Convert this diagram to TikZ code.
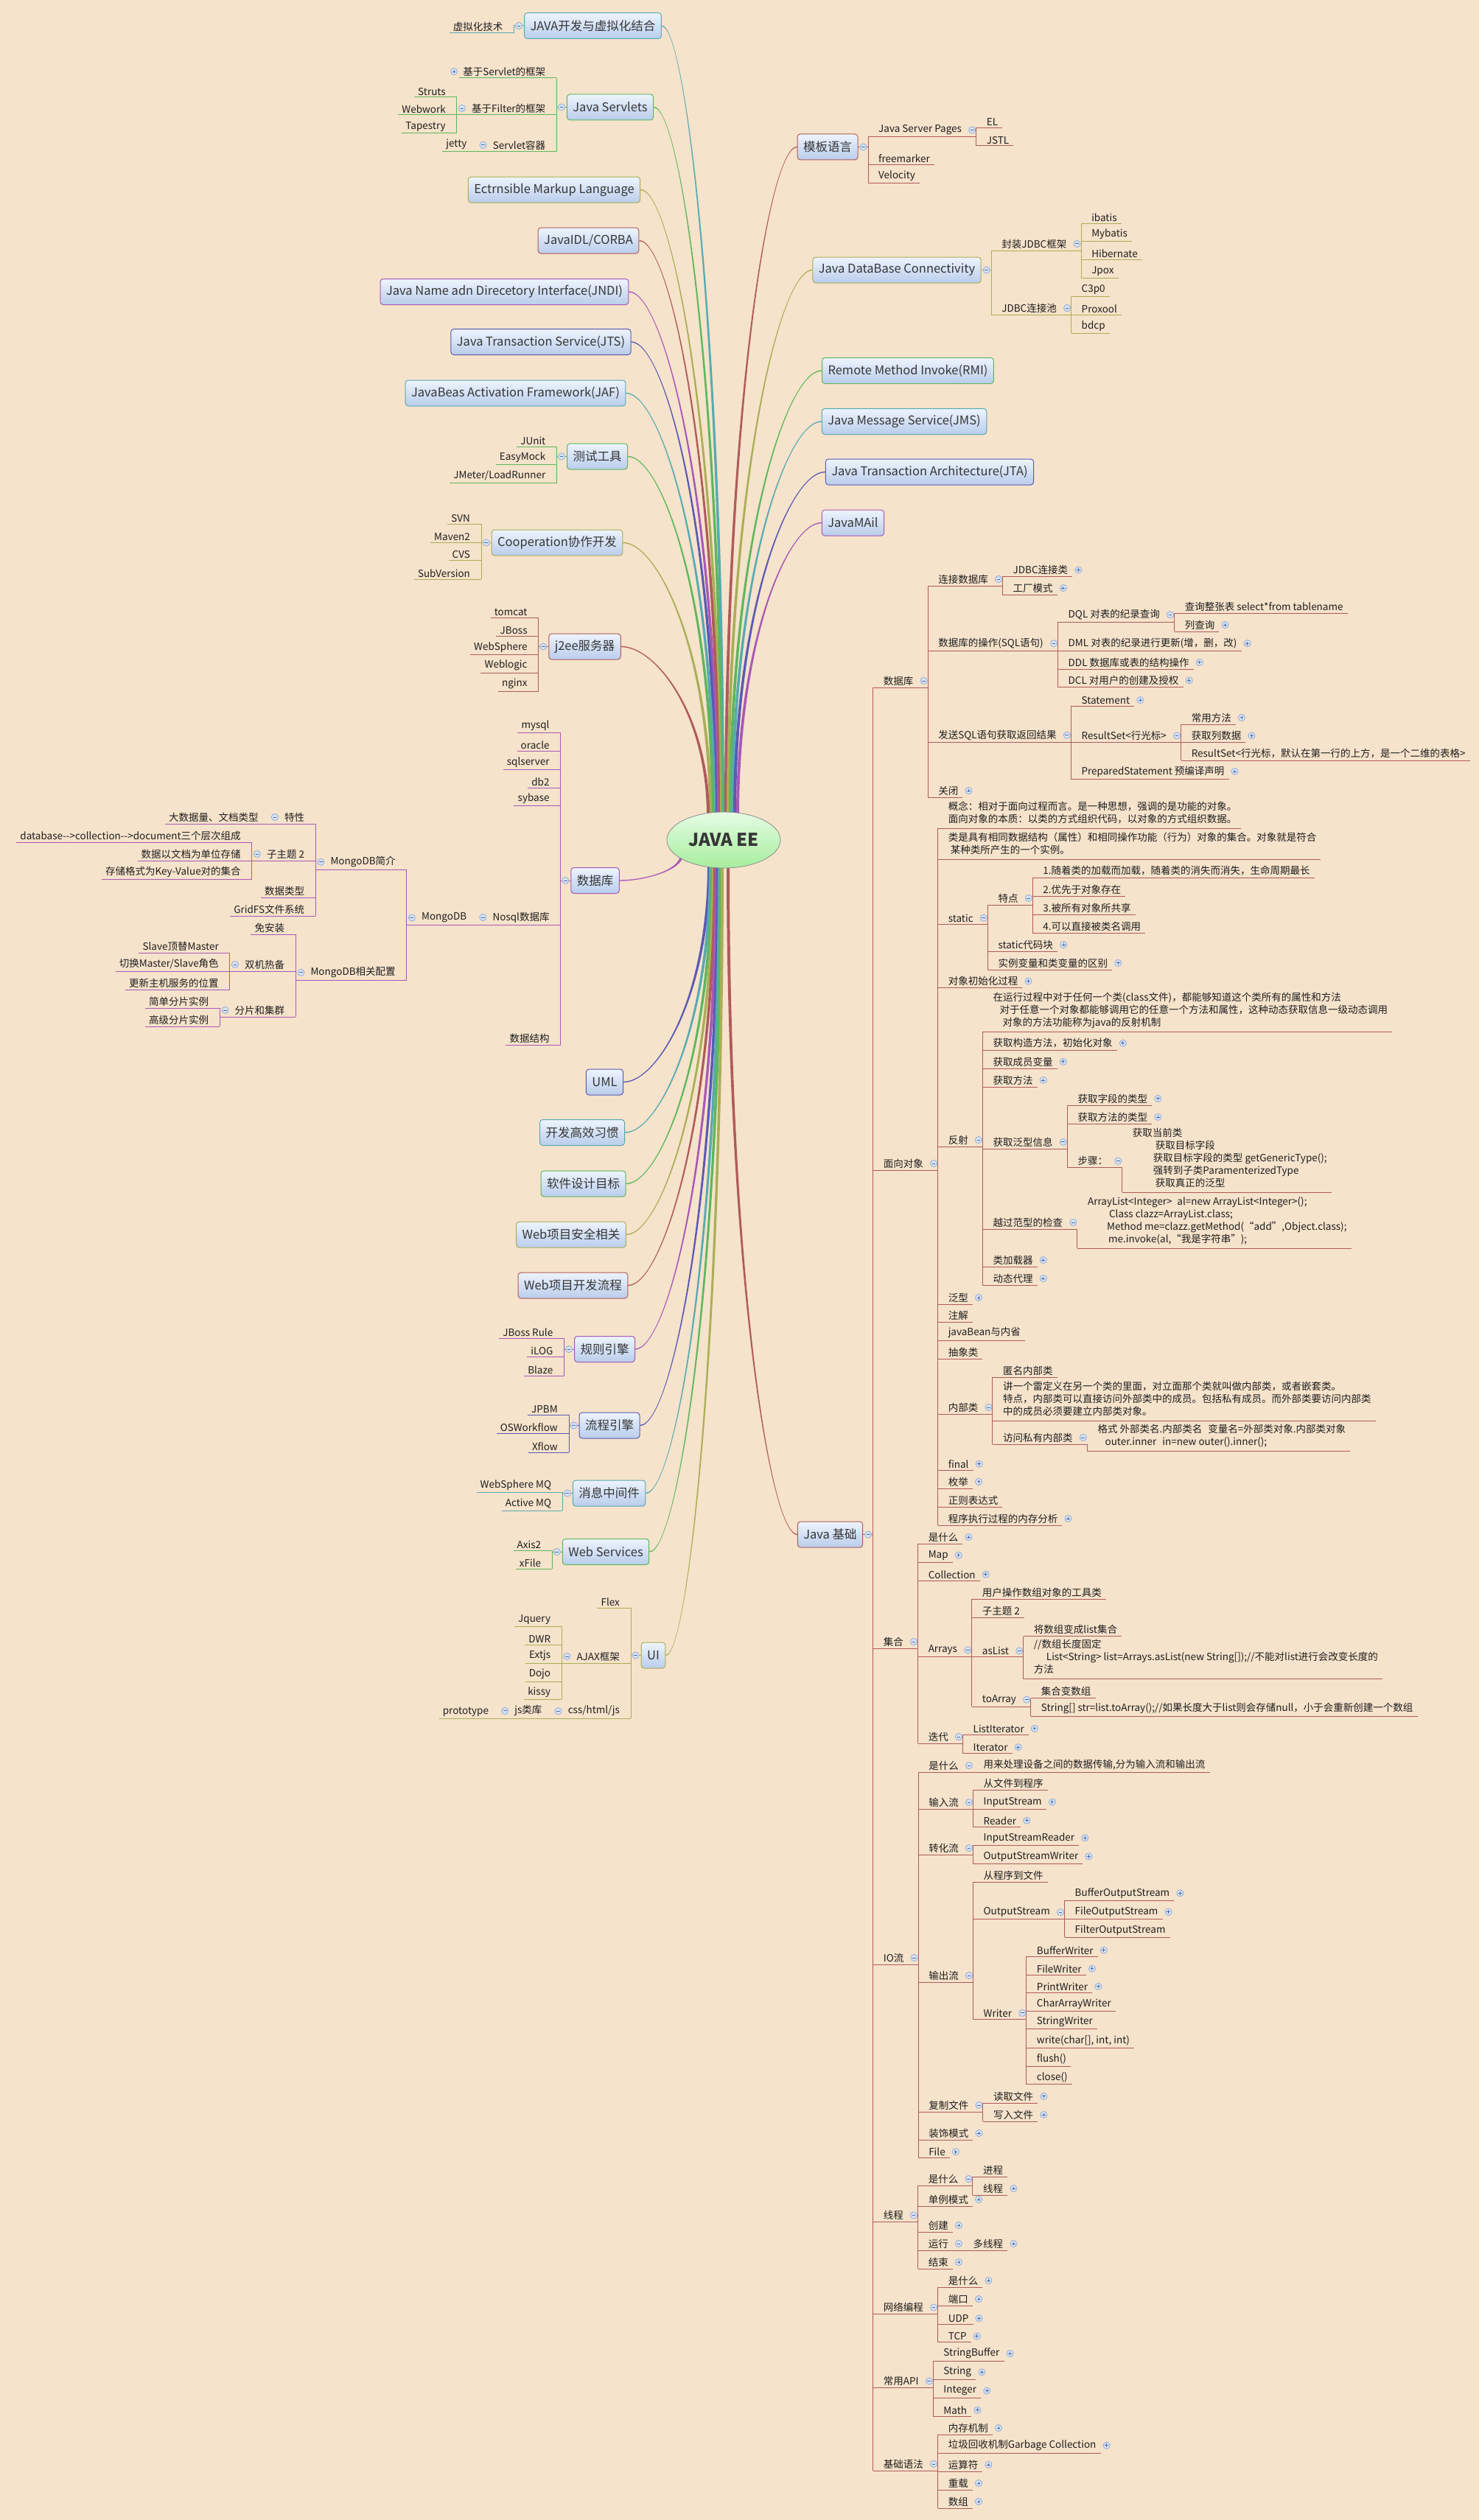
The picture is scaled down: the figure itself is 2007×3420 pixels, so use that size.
\documentclass[tikz,border=0pt]{standalone}
\usepackage{fontspec}
\setmainfont{Noto Sans CJK SC}
\usetikzlibrary{shapes.geometric,calc}

\pgfdeclarelayer{paper}
\pgfdeclarelayer{lines}
\pgfsetlayers{paper,lines,main}

\definecolor{leather}{HTML}{F6E3CB}
\definecolor{cred}{HTML}{AF5B5B}
\definecolor{cpur}{HTML}{A858B8}
\definecolor{cblu}{HTML}{5A5AB4}
\definecolor{ctea}{HTML}{56AAB2}
\definecolor{cgre}{HTML}{5DB75D}
\definecolor{coli}{HTML}{A9AE56}
\definecolor{boxtop}{HTML}{EEF4FD}
\definecolor{boxbot}{HTML}{B9CDEB}
\definecolor{roottop}{HTML}{E6FBE4}
\definecolor{rootbot}{HTML}{A6EE9E}
\definecolor{txt}{HTML}{1E1E1E}
\definecolor{boxtxt}{HTML}{363636}
\definecolor{btnfill}{HTML}{D6E3F6}
\definecolor{btnline}{HTML}{8CA6D0}
\definecolor{btnsign}{HTML}{4F6C9E}

\newcommand\leaffont{\fontsize{13.5}{17}\selectfont}
\newcommand\boxfont{\fontsize{16.5}{20}\selectfont}
\newcommand\ml[1]{\begin{tabular}{@{}l@{}}#1\end{tabular}}
% collapse buttons
\newcommand\mns[1]{\filldraw[fill=btnfill,draw=btnline,line width=0.7pt] #1 circle[radius=4.6pt];
  \draw[btnsign,line width=0.9pt] #1 ++(-2.4,0) -- ++(4.8,0);}
\newcommand\pls[1]{\mns{#1}\draw[btnsign,line width=0.9pt] #1 ++(0,-2.4) -- ++(0,4.8);}
% tapered branch from the root: colour, start, end anchor
\newcommand\mainline[3]{%
  \fill[#1] let \p1=#2, \p2=(#3),
    \n1={ifthenelse(\y2>\y1,-1,1)}, \n2={ifthenelse(\x2<\x1,-1,1)},
    \n3={\y1+0.6*(\y2-\y1)}, \n4={\x2+0.4*(\x1-\x2)} in
    ({\x1+\n1*2pt},\y1) .. controls ({\x1+\n1*2pt},{\n3*1pt}) and ({\n4*1pt},{\y2+\n2*0.7pt}) .. (\x2,{\y2+\n2*0.7pt})
    -- (\x2,{\y2-\n2*0.7pt}) .. controls ({\n4*1pt},{\y2-\n2*0.7pt}) and ({\x1-\n1*2pt},{\n3*1pt}) .. ({\x1-\n1*2pt},\y1) -- cycle;}

\tikzset{
  ul/.style={draw=bc, line width=1pt},
  tp/.style={inner xsep=0pt, inner ysep=2.6pt, text=txt, font=\leaffont,
    append after command={(\tikzlastnode.south west) edge[ul] (\tikzlastnode.south east)}},
  rc/.style={tp, anchor=south west, xshift=13.5pt,
    execute at begin node={\hspace*{14pt}}, execute at end node={\hspace*{6pt}}},
  lc/.style={tp, anchor=south east, xshift=#1,
    execute at begin node={\hspace*{5pt}}, execute at end node={\hspace*{15pt}}},
  lc/.default=0pt,
  lp/.style={tp, anchor=south east, xshift=#1,
    execute at begin node={\hspace*{20pt}}, execute at end node={\hspace*{15pt}}},
  lp/.default=0pt,
  topic/.style={rounded corners=4pt, draw=bc, line width=1pt, top color=boxtop, bottom color=boxbot,
    text=boxtxt, font=\boxfont, inner xsep=8pt, inner ysep=0pt, minimum height=35pt},
  conn/.style={draw=bc, line width=1pt},
}

\begin{document}
\begin{tikzpicture}[x=1pt,y=-1pt]

%root
\node[ellipse, draw=black!45, line width=0.8pt, top color=roottop, bottom color=rootbot,
  minimum width=154pt, minimum height=76pt, inner sep=0pt, text=boxtxt,
  font=\fontsize{24}{28}\selectfont\bfseries] (root) at (982,1140) {JAVA EE};

%JAVA开发与虚拟化结合
\begin{scope}
\colorlet{bc}{ctea}
\node[topic] (jv) at (804.5,35) {JAVA开发与虚拟化结合};
\node[lc=-13.5pt] (vt) at (jv.west |- 0,45) {虚拟化技术};
\draw[conn] (jv.west) -| (vt.south east);
\end{scope}

%Java Servlets
\begin{scope}
\colorlet{bc}{cgre}
\node[topic] (sv) at (828,145.5) {Java Servlets};
\node[lc=-13.5pt] (svf) at (sv.west |- 0,106) {基于Servlet的框架};
\node[lp=-13.5pt] (flt) at (sv.west |- 0,156) {基于Filter的框架};
\node[lp=-13.5pt] (sc) at (sv.west |- 0,206) {Servlet容器};
\node[lc] (struts) at (flt.south west |- 0,132) {Struts};
\node[lc] (webwork) at (flt.south west |- 0,156) {Webwork};
\node[lc] (tapestry) at (flt.south west |- 0,181) {Tapestry};
\node[lc] (jetty) at (sc.south west |- 0,206) {jetty};
\foreach \c in {svf,flt,sc} \draw[conn] (sv.west) -| (\c.south east);
\foreach \c in {struts,webwork,tapestry} \draw[conn] (flt.south west) -- (\c.south east);
\end{scope}

\begin{scope}
\colorlet{bc}{coli}
\node[topic] (xml) at (752,257.5) {Ectrnsible Markup Language};
\end{scope}
\begin{scope}
\colorlet{bc}{cred}
\node[topic] (idl) at (798.5,326.5) {JavaIDL/CORBA};
\end{scope}
\begin{scope}
\colorlet{bc}{cpur}
\node[topic] (jndi) at (684.5,396) {Java Name adn Direcetory Interface(JNDI)};
\end{scope}
\begin{scope}
\colorlet{bc}{cblu}
\node[topic] (jts) at (734,464) {Java Transaction Service(JTS)};
\end{scope}
\begin{scope}
\colorlet{bc}{ctea}
\node[topic] (jaf) at (699.5,533.5) {JavaBeas Activation Framework(JAF)};
\end{scope}

%测试工具
\begin{scope}
\colorlet{bc}{cgre}
\node[topic] (test) at (810.5,619.5) {测试工具};
\node[lc=-13.5pt] (junit) at (test.west |- 0,606) {JUnit};
\node[lc=-13.5pt] (easymock) at (test.west |- 0,630) {EasyMock};
\node[lc=-13.5pt] (jmeter) at (test.west |- 0,655) {JMeter/LoadRunner};
\foreach \c in {junit,easymock,jmeter} \draw[conn] (test.west) -| (\c.south east);
\end{scope}

%Cooperation
\begin{scope}
\colorlet{bc}{coli}
\node[topic] (coop) at (756,736.5) {Cooperation协作开发};
\node[lc=-13.5pt] (svn) at (coop.west |- 0,711) {SVN};
\node[lc=-13.5pt] (maven) at (coop.west |- 0,736) {Maven2};
\node[lc=-13.5pt] (cvs) at (coop.west |- 0,760) {CVS};
\node[lc=-13.5pt] (subv) at (coop.west |- 0,786) {SubVersion};
\foreach \c in {svn,maven,cvs,subv} \draw[conn] (coop.west) -| (\c.south east);
\end{scope}

%j2ee服务器
\begin{scope}
\colorlet{bc}{cred}
\node[topic] (j2ee) at (793.5,877.5) {j2ee服务器};
\node[lc=-13.5pt] (tomcat) at (j2ee.west |- 0,838) {tomcat};
\node[lc=-13.5pt] (jboss) at (j2ee.west |- 0,863) {JBoss};
\node[lc=-13.5pt] (wsph) at (j2ee.west |- 0,888) {WebSphere};
\node[lc=-13.5pt] (wlogic) at (j2ee.west |- 0,913) {Weblogic};
\node[lc=-13.5pt] (nginx) at (j2ee.west |- 0,938) {nginx};
\foreach \c in {tomcat,jboss,wsph,wlogic,nginx} \draw[conn] (j2ee.west) -| (\c.south east);
\end{scope}

%数据库 (left)
\begin{scope}
\colorlet{bc}{cpur}
\node[topic] (ldb) at (807.5,1195) {数据库};
\node[lc=-13.5pt] (mysql) at (ldb.west |- 0,994) {mysql};
\node[lc=-13.5pt] (oracle) at (ldb.west |- 0,1019) {oracle};
\node[lc=-13.5pt] (sqlsrv) at (ldb.west |- 0,1044) {sqlserver};
\node[lc=-13.5pt] (db2) at (ldb.west |- 0,1069) {db2};
\node[lc=-13.5pt] (sybase) at (ldb.west |- 0,1093) {sybase};
\node[lp=-13.5pt] (nosql) at (ldb.west |- 0,1255) {Nosql数据库};
\node[lc=-13.5pt] (dstruct) at (ldb.west |- 0,1418) {数据结构};
\node[lp] (mongo) at (nosql.south west |- 0,1255) {MongoDB};
\node[lp] (mintro) at (mongo.south west |- 0,1180) {MongoDB简介};
\node[lp] (mconf) at (mongo.south west |- 0,1330) {MongoDB相关配置};
\node[lp] (feat) at (mintro.south west |- 0,1118) {特性};
\node[lc] (big) at (feat.south west |- 0,1118) {大数据量、文档类型};
\node[lp] (sub2) at (mintro.south west |- 0,1168) {子主题 2};
\node[lc] (dbcoll) at (sub2.south west |- 0,1143) {database-{}-{}>collection-{}-{}>document三个层次组成};
\node[lc] (docstore) at (sub2.south west |- 0,1168) {数据以文档为单位存储};
\node[lc] (kvset) at (sub2.south west |- 0,1193) {存储格式为Key-Value对的集合};
\node[lc] (dtype) at (mintro.south west |- 0,1218) {数据类型};
\node[lc] (gridfs) at (mintro.south west |- 0,1243) {GridFS文件系统};
\node[lc] (noinst) at (mconf.south west |- 0,1268) {免安装};
\node[lp] (hot) at (mconf.south west |- 0,1318) {双机热备};
\node[lc] (slave) at (hot.south west |- 0,1293) {Slave顶替Master};
\node[lc] (swap) at (hot.south west |- 0,1318) {切换Master/Slave角色};
\node[lc] (upd) at (hot.south west |- 0,1343) {更新主机服务的位置};
\node[lp] (shard) at (mconf.south west |- 0,1380) {分片和集群};
\node[lc] (simple) at (shard.south west |- 0,1368) {简单分片实例};
\node[lc] (adv) at (shard.south west |- 0,1393) {高级分片实例};
\foreach \c in {mysql,oracle,sqlsrv,db2,sybase,nosql,dstruct} \draw[conn] (ldb.west) -| (\c.south east);
\foreach \c in {mintro,mconf} \draw[conn] (mongo.south west) -- (\c.south east);
\foreach \c in {feat,sub2,dtype,gridfs} \draw[conn] (mintro.south west) -- (\c.south east);
\foreach \c in {dbcoll,kvset} \draw[conn] (sub2.south west) -- (\c.south east);
\foreach \c in {noinst,hot,shard} \draw[conn] (mconf.south west) -- (\c.south east);
\foreach \c in {slave,upd} \draw[conn] (hot.south west) -- (\c.south east);
\foreach \c in {simple,adv} \draw[conn] (shard.south west) -- (\c.south east);
\end{scope}

\begin{scope}
\colorlet{bc}{cblu}
\node[topic] (uml) at (820.5,1468.5) {UML};
\end{scope}
\begin{scope}
\colorlet{bc}{ctea}
\node[topic] (habit) at (790,1537) {开发高效习惯};
\end{scope}
\begin{scope}
\colorlet{bc}{cgre}
\node[topic] (goal) at (791.5,1606.5) {软件设计目标};
\end{scope}
\begin{scope}
\colorlet{bc}{coli}
\node[topic] (sec) at (775,1675.5) {Web项目安全相关};
\end{scope}
\begin{scope}
\colorlet{bc}{cred}
\node[topic] (flow) at (777.5,1744.5) {Web项目开发流程};
\end{scope}

%规则引擎
\begin{scope}
\colorlet{bc}{cpur}
\node[topic] (rule) at (820.5,1831) {规则引擎};
\node[lc=-13.5pt] (jbr) at (rule.west |- 0,1816) {JBoss Rule};
\node[lc=-13.5pt] (ilog) at (rule.west |- 0,1841) {iLOG};
\node[lc=-13.5pt] (blaze) at (rule.west |- 0,1867) {Blaze};
\foreach \c in {jbr,ilog,blaze} \draw[conn] (rule.west) -| (\c.south east);
\end{scope}

%流程引擎
\begin{scope}
\colorlet{bc}{cblu}
\node[topic] (wf) at (827,1934.5) {流程引擎};
\node[lc=-13.5pt] (jpbm) at (wf.west |- 0,1920) {JPBM};
\node[lc=-13.5pt] (osw) at (wf.west |- 0,1945) {OSWorkflow};
\node[lc=-13.5pt] (xflow) at (wf.west |- 0,1971) {Xflow};
\foreach \c in {jpbm,osw,xflow} \draw[conn] (wf.west) -| (\c.south east);
\end{scope}

%消息中间件
\begin{scope}
\colorlet{bc}{ctea}
\node[topic] (mq) at (826.5,2026.5) {消息中间件};
\node[lc=-13.5pt] (wsmq) at (mq.west |- 0,2025) {WebSphere MQ};
\node[lc=-13.5pt] (amq) at (mq.west |- 0,2050) {Active MQ};
\foreach \c in {wsmq,amq} \draw[conn] (mq.west) -| (\c.south east);
\end{scope}

%Web Services
\begin{scope}
\colorlet{bc}{cgre}
\node[topic] (ws) at (822,2106) {Web Services};
\node[lc=-13.5pt] (axis) at (ws.west |- 0,2104) {Axis2};
\node[lc=-13.5pt] (xfile) at (ws.west |- 0,2129) {xFile};
\foreach \c in {axis,xfile} \draw[conn] (ws.west) -| (\c.south east);
\end{scope}

%UI
\begin{scope}
\colorlet{bc}{coli}
\node[topic] (ui) at (886.5,2246.5) {UI};
\node[lc=-13.5pt] (flex) at (ui.west |- 0,2182) {Flex};
\node[lp=-13.5pt] (ajax) at (ui.west |- 0,2257) {AJAX框架};
\node[lp=-13.5pt] (css) at (ui.west |- 0,2332) {css/html/js};
\node[lc] (jq) at (ajax.south west |- 0,2207) {Jquery};
\node[lc] (dwr) at (ajax.south west |- 0,2232) {DWR};
\node[lc] (extjs) at (ajax.south west |- 0,2257) {Extjs};
\node[lc] (dojo) at (ajax.south west |- 0,2282) {Dojo};
\node[lc] (kissy) at (ajax.south west |- 0,2306) {kissy};
\node[lp] (jslib) at (css.south west |- 0,2332) {js类库};
\node[lc] (proto) at (jslib.south west |- 0,2332) {prototype};
\foreach \c in {flex,ajax,css} \draw[conn] (ui.west) -| (\c.south east);
\foreach \c in {jq,dwr,dojo,kissy} \draw[conn] (ajax.south west) -- (\c.south east);
\end{scope}

%模板语言
\begin{scope}
\colorlet{bc}{cred}
\node[topic] (tpl) at (1123,199.5) {模板语言};
\node[rc] (jsp) at (tpl.east |- 0,186) {Java Server Pages};
\node[rc] (fm) at (tpl.east |- 0,223) {freemarker};
\node[rc] (vel) at (tpl.east |- 0,248) {Velocity};
\node[rc] (el) at (jsp.south east |- 0,173.5) {EL};
\node[rc] (jstl) at (jsp.south east |- 0,198) {JSTL};
\foreach \c in {jsp,fm,vel} \draw[conn] (tpl.east) -| (\c.south west);
\foreach \c in {el,jstl} \draw[conn] (jsp.south east) -| (\c.south west);
\end{scope}

%JDBC
\begin{scope}
\colorlet{bc}{coli}
\node[topic] (jdbc) at (1217,366.5) {Java DataBase Connectivity};
\node[rc] (wrap) at (jdbc.east |- 0,340) {封装JDBC框架};
\node[rc] (pool) at (jdbc.east |- 0,427) {JDBC连接池};
\node[rc] (ibatis) at (wrap.south east |- 0,303) {ibatis};
\node[rc] (mybatis) at (wrap.south east |- 0,327) {Mybatis};
\node[rc] (hib) at (wrap.south east |- 0,352) {Hibernate};
\node[rc] (jpox) at (wrap.south east |- 0,377) {Jpox};
\node[rc] (c3p0) at (pool.south east |- 0,402) {C3p0};
\node[rc] (proxool) at (pool.south east |- 0,427) {Proxool};
\node[rc] (bdcp) at (pool.south east |- 0,452) {bdcp};
\foreach \c in {wrap,pool} \draw[conn] (jdbc.east) -| (\c.south west);
\foreach \c in {ibatis,mybatis,hib,jpox} \draw[conn] (wrap.south east) -| (\c.south west);
\foreach \c in {c3p0,proxool,bdcp} \draw[conn] (pool.south east) -| (\c.south west);
\end{scope}

\begin{scope}
\colorlet{bc}{cgre}
\node[topic] (rmi) at (1232,503) {Remote Method Invoke(RMI)};
\end{scope}
\begin{scope}
\colorlet{bc}{ctea}
\node[topic] (jms) at (1227,572) {Java Message Service(JMS)};
\end{scope}
\begin{scope}
\colorlet{bc}{cblu}
\node[topic] (jta) at (1261.5,640.5) {Java Transaction Architecture(JTA)};
\end{scope}
\begin{scope}
\colorlet{bc}{cpur}
\node[topic] (mail) at (1157.5,709.5) {JavaMAil};
\end{scope}

%Java 基础
\begin{scope}
\colorlet{bc}{cred}
\node[topic] (jb) at (1126.5,2082.5) {Java 基础};
\node[rc] (db) at (jb.east |- 0,933) {数据库};
\node[rc] (oop) at (jb.east |- 0,1588) {面向对象};
\node[rc] (coll) at (jb.east |- 0,2237) {集合};
\node[rc] (io) at (jb.east |- 0,2666) {IO流};
\node[rc] (thr) at (jb.east |- 0,3015.5) {线程};
\node[rc] (net) at (jb.east |- 0,3140.5) {网络编程};
\node[rc] (api) at (jb.east |- 0,3240.5) {常用API};
\node[rc] (basic) at (jb.east |- 0,3353) {基础语法};
\foreach \c in {db,oop,coll,io,thr,net,api,basic} \draw[conn] (jb.east) -| (\c.south west);

%数据库
\node[rc] (conn) at (db.south east |- 0,795) {连接数据库};
\node[rc] (sqlop) at (db.south east |- 0,883) {数据库的操作(SQL语句)};
\node[rc] (send) at (db.south east |- 0,1007.5) {发送SQL语句获取返回结果};
\node[rc] (close) at (db.south east |- 0,1082) {关闭};
\node[rc] (jdbcc) at (conn.south east |- 0,782.5) {JDBC连接类};
\node[rc] (factory) at (conn.south east |- 0,807) {工厂模式};
\node[rc] (dql) at (sqlop.south east |- 0,844) {DQL 对表的纪录查询};
\node[rc] (dml) at (sqlop.south east |- 0,883) {DML 对表的纪录进行更新(增，删，改)};
\node[rc] (ddl) at (sqlop.south east |- 0,908) {DDL 数据库或表的结构操作};
\node[rc] (dcl) at (sqlop.south east |- 0,932.5) {DCL 对用户的创建及授权};
\node[rc] (selall) at (dql.south east |- 0,832) {查询整张表 select*from tablename};
\node[rc] (colq) at (dql.south east |- 0,857) {列查询};
\node[rc] (stmt) at (send.south east |- 0,958) {Statement};
\node[rc] (rs) at (send.south east |- 0,1007.5) {ResultSet<行光标>};
\node[rc] (pst) at (send.south east |- 0,1057) {PreparedStatement 预编译声明};
\node[rc] (rsm) at (rs.south east |- 0,983) {常用方法};
\node[rc] (rsg) at (rs.south east |- 0,1007.5) {获取列数据};
\node[rc] (rsd) at (rs.south east |- 0,1032) {ResultSet<行光标，默认在第一行的上方，是一个二维的表格>};
\foreach \c in {conn,sqlop,send,close} \draw[conn] (db.south east) -| (\c.south west);
\foreach \c in {jdbcc,factory} \draw[conn] (conn.south east) -| (\c.south west);
\foreach \c in {dql,dml,ddl,dcl} \draw[conn] (sqlop.south east) -| (\c.south west);
\foreach \c in {selall,colq} \draw[conn] (dql.south east) -| (\c.south west);
\foreach \c in {stmt,rs,pst} \draw[conn] (send.south east) -| (\c.south west);
\foreach \c in {rsm,rsg,rsd} \draw[conn] (rs.south east) -| (\c.south west);

%面向对象
\node[rc] (concept) at (oop.south east |- 0,1124) {\ml{概念：相对于面向过程而言。是一种思想，强调的是功能的对象。\\面向对象的本质：以类的方式组织代码，以对象的方式组织数据。}};
\node[rc] (cls) at (oop.south east |- 0,1166) {\ml{类是具有相同数据结构（属性）和相同操作功能（行为）对象的集合。对象就是符合\\\hspace*{3pt}某种类所产生的一个实例。}};
\node[rc] (stat) at (oop.south east |- 0,1254) {static};
\node[rc] (init) at (oop.south east |- 0,1340.5) {对象初始化过程};
\node[rc] (refl) at (oop.south east |- 0,1556) {反射};
\node[rc] (gen) at (oop.south east |- 0,1770) {泛型};
\node[rc] (anno) at (oop.south east |- 0,1794) {注解};
\node[rc] (bean) at (oop.south east |- 0,1819) {javaBean与内省};
\node[rc] (abst) at (oop.south east |- 0,1844) {抽象类};
\node[rc] (inner) at (oop.south east |- 0,1919) {内部类};
\node[rc] (fin) at (oop.south east |- 0,1995) {final};
\node[rc] (enum) at (oop.south east |- 0,2020) {枚举};
\node[rc] (regex) at (oop.south east |- 0,2045) {正则表达式};
\node[rc] (mem) at (oop.south east |- 0,2070) {程序执行过程的内存分析};
\node[rc] (feat2) at (stat.south east |- 0,1228) {特点};
\node[rc] (sblock) at (stat.south east |- 0,1291) {static代码块};
\node[rc] (ivar) at (stat.south east |- 0,1316) {实例变量和类变量的区别};
\node[rc] (f1) at (feat2.south east |- 0,1191) {1.随着类的加载而加载，随着类的消失而消失，生命周期最长};
\node[rc] (f2) at (feat2.south east |- 0,1216) {2.优先于对象存在};
\node[rc] (f3) at (feat2.south east |- 0,1241) {3.被所有对象所共享};
\node[rc] (f4) at (feat2.south east |- 0,1266) {4.可以直接被类名调用};
\node[rc] (rdesc) at (refl.south east |- 0,1400.5) {\ml{在运行过程中对于任何一个类(class文件)，都能够知道这个类所有的属性和方法\\\hspace*{9pt}对于任意一个对象都能够调用它的任意一个方法和属性，这种动态获取信息一级动态调用\\\hspace*{13pt}对象的方法功能称为java的反射机制}};
\node[rc] (rcons) at (refl.south east |- 0,1425) {获取构造方法，初始化对象};
\node[rc] (rfield) at (refl.south east |- 0,1450) {获取成员变量};
\node[rc] (rmeth) at (refl.south east |- 0,1475) {获取方法};
\node[rc] (rgen) at (refl.south east |- 0,1559) {获取泛型信息};
\node[rc] (rchk) at (refl.south east |- 0,1668) {越过范型的检查};
\node[rc] (rload) at (refl.south east |- 0,1719) {类加载器};
\node[rc] (rproxy) at (refl.south east |- 0,1744) {动态代理};
\node[rc] (gft) at (rgen.south east |- 0,1500) {获取字段的类型};
\node[rc] (gmt) at (rgen.south east |- 0,1525) {获取方法的类型};
\node[rc] (steps) at (rgen.south east |- 0,1584.5) {步骤：};
\node[rc] (stepd) at (steps.south east |- 0,1618) {\ml{获取当前类\\\hspace*{31pt}获取目标字段\\\hspace*{28pt}获取目标字段的类型 getGenericType();\\\hspace*{28pt}强转到子类ParamenterizedType\\\hspace*{31pt}获取真正的泛型}};
\node[rc] (chkd) at (rchk.south east |- 0,1694) {\ml{ArrayList<Integer>\hspace{0.5em}al=new ArrayList<Integer>();\\\hspace*{29pt}Class clazz=ArrayList.class;\\\hspace*{26pt}Method me=clazz.getMethod(“add”,Object.class);\\\hspace*{28pt}me.invoke(al,“我是字符串”);}};
\node[rc] (anon) at (inner.south east |- 0,1869) {匿名内部类};
\node[rc] (innd) at (inner.south east |- 0,1928) {\ml{讲一个雷定义在另一个类的里面，对立面那个类就叫做内部类，或者嵌套类。\\特点，内部类可以直接访问外部类中的成员。包括私有成员。而外部类要访问内部类\\中的成员必须要建立内部类对象。}};
\node[rc] (priv) at (inner.south east |- 0,1960) {访问私有内部类};
\node[rc] (privd) at (priv.south east |- 0,1969) {\ml{格式 外部类名.内部类名\hspace{0.6em}变量名=外部类对象.内部类对象\\\hspace*{10pt}outer.inner\hspace{0.6em}in=new outer().inner();}};
\foreach \c in {concept,cls,stat,init,refl,gen,anno,bean,abst,inner,fin,enum,regex,mem} \draw[conn] (oop.south east) -| (\c.south west);
\foreach \c in {feat2,sblock,ivar} \draw[conn] (stat.south east) -| (\c.south west);
\foreach \c in {f1,f2,f3,f4} \draw[conn] (feat2.south east) -| (\c.south west);
\foreach \c in {rdesc,rcons,rfield,rmeth,rgen,rchk,rload,rproxy} \draw[conn] (refl.south east) -| (\c.south west);
\foreach \c in {gft,gmt,steps} \draw[conn] (rgen.south east) -| (\c.south west);
\draw[conn] (steps.south east) -| (stepd.south west);
\draw[conn] (rchk.south east) -| (chkd.south west);
\foreach \c in {anon,innd,priv} \draw[conn] (inner.south east) -| (\c.south west);
\draw[conn] (priv.south east) -| (privd.south west);

%集合
\node[rc] (cwhat) at (coll.south east |- 0,2095) {是什么};
\node[rc] (map) at (coll.south east |- 0,2120) {Map};
\node[rc] (colle) at (coll.south east |- 0,2145) {Collection};
\node[rc] (arrays) at (coll.south east |- 0,2248.6) {Arrays};
\node[rc] (iter) at (coll.south east |- 0,2366) {迭代};
\node[rc] (atool) at (arrays.south east |- 0,2170) {用户操作数组对象的工具类};
\node[rc] (asub) at (arrays.south east |- 0,2195) {子主题 2};
\node[rc] (aslist) at (arrays.south east |- 0,2248.6) {asList};
\node[rc] (toarr) at (arrays.south east |- 0,2316) {toArray};
\node[rc] (al1) at (aslist.south east |- 0,2220.6) {将数组变成list集合};
\node[rc] (al2) at (aslist.south east |- 0,2278.5) {\ml{//数组长度固定\\\hspace*{17pt}List<String> list=Arrays.asList(new String[]);//不能对list进行会改变长度的\\方法}};
\node[rc] (ta1) at (toarr.south east |- 0,2304.7) {集合变数组};
\node[rc] (ta2) at (toarr.south east |- 0,2329) {String[] str=list.toArray();//如果长度大于list则会存储null，小于会重新创建一个数组};
\node[rc] (litr) at (iter.south east |- 0,2354) {ListIterator};
\node[rc] (itr) at (iter.south east |- 0,2379) {Iterator};
\foreach \c in {cwhat,map,colle,arrays,iter} \draw[conn] (coll.south east) -| (\c.south west);
\foreach \c in {atool,asub,aslist,toarr} \draw[conn] (arrays.south east) -| (\c.south west);
\foreach \c in {al1,al2} \draw[conn] (aslist.south east) -| (\c.south west);
\foreach \c in {ta1,ta2} \draw[conn] (toarr.south east) -| (\c.south west);
\foreach \c in {litr,itr} \draw[conn] (iter.south east) -| (\c.south west);

%IO流
\node[rc] (iwhat) at (io.south east |- 0,2405) {是什么};
\node[rc] (inp) at (io.south east |- 0,2455) {输入流};
\node[rc] (conv) at (io.south east |- 0,2517) {转化流};
\node[rc] (outp) at (io.south east |- 0,2690) {输出流};
\node[rc] (copy) at (io.south east |- 0,2866) {复制文件};
\node[rc] (deco) at (io.south east |- 0,2904) {装饰模式};
\node[rc] (file) at (io.south east |- 0,2928.5) {File};
\node[rc] (iwd) at (iwhat.south east |- 0,2405) {用来处理设备之间的数据传输,分为输入流和输出流};
\node[rc] (in1) at (inp.south east |- 0,2429.5) {从文件到程序};
\node[rc] (in2) at (inp.south east |- 0,2455) {InputStream};
\node[rc] (in3) at (inp.south east |- 0,2479) {Reader};
\node[rc] (cv1) at (conv.south east |- 0,2504) {InputStreamReader};
\node[rc] (cv2) at (conv.south east |- 0,2529) {OutputStreamWriter};
\node[rc] (o1) at (outp.south east |- 0,2554) {从程序到文件};
\node[rc] (os) at (outp.south east |- 0,2604.5) {OutputStream};
\node[rc] (wr) at (outp.south east |- 0,2740) {Writer};
\node[rc] (os1) at (os.south east |- 0,2579) {BufferOutputStream};
\node[rc] (os2) at (os.south east |- 0,2604.5) {FileOutputStream};
\node[rc] (os3) at (os.south east |- 0,2629) {FilterOutputStream};
\node[rc] (w1) at (wr.south east |- 0,2655) {BufferWriter};
\node[rc] (w2) at (wr.south east |- 0,2680) {FileWriter};
\node[rc] (w3) at (wr.south east |- 0,2704) {PrintWriter};
\node[rc] (w4) at (wr.south east |- 0,2729) {CharArrayWriter};
\node[rc] (w5) at (wr.south east |- 0,2753.5) {StringWriter};
\node[rc] (w6) at (wr.south east |- 0,2779) {write(char[], int, int)};
\node[rc] (w7) at (wr.south east |- 0,2804) {flush()};
\node[rc] (w8) at (wr.south east |- 0,2828.5) {close()};
\node[rc] (rdf) at (copy.south east |- 0,2854) {读取文件};
\node[rc] (wtf) at (copy.south east |- 0,2879) {写入文件};
\foreach \c in {iwhat,inp,conv,outp,copy,deco,file} \draw[conn] (io.south east) -| (\c.south west);
\draw[conn] (iwhat.south east) -- (iwd.south west);
\foreach \c in {in1,in2,in3} \draw[conn] (inp.south east) -| (\c.south west);
\foreach \c in {cv1,cv2} \draw[conn] (conv.south east) -| (\c.south west);
\foreach \c in {o1,os,wr} \draw[conn] (outp.south east) -| (\c.south west);
\foreach \c in {os1,os2,os3} \draw[conn] (os.south east) -| (\c.south west);
\foreach \c in {w1,w2,w3,w4,w5,w6,w7,w8} \draw[conn] (wr.south east) -| (\c.south west);
\foreach \c in {rdf,wtf} \draw[conn] (copy.south east) -| (\c.south west);

%线程
\node[rc] (twhat) at (thr.south east |- 0,2966) {是什么};
\node[rc] (single) at (thr.south east |- 0,2994) {单例模式};
\node[rc] (create) at (thr.south east |- 0,3029) {创建};
\node[rc] (run) at (thr.south east |- 0,3054) {运行};
\node[rc] (tend) at (thr.south east |- 0,3079) {结束};
\node[rc] (proc) at (twhat.south east |- 0,2954) {进程};
\node[rc] (thread) at (twhat.south east |- 0,2979) {线程};
\node[rc] (multi) at (run.south east |- 0,3054) {多线程};
\foreach \c in {twhat,single,create,run,tend} \draw[conn] (thr.south east) -| (\c.south west);
\foreach \c in {proc,thread} \draw[conn] (twhat.south east) -| (\c.south west);
\draw[conn] (run.south east) -- (multi.south west);

%网络编程, 常用API, 基础语法
\node[rc] (nwhat) at (net.south east |- 0,3104) {是什么};
\node[rc] (port) at (net.south east |- 0,3129) {端口};
\node[rc] (udp) at (net.south east |- 0,3154) {UDP};
\node[rc] (tcp) at (net.south east |- 0,3178.5) {TCP};
\node[rc] (sbuf) at (api.south east |- 0,3204) {StringBuffer};
\node[rc] (str) at (api.south east |- 0,3229) {String};
\node[rc] (integ) at (api.south east |- 0,3254) {Integer};
\node[rc] (math) at (api.south east |- 0,3279) {Math};
\node[rc] (mm) at (basic.south east |- 0,3304) {内存机制};
\node[rc] (gc) at (basic.south east |- 0,3329) {垃圾回收机制Garbage Collection};
\node[rc] (oper) at (basic.south east |- 0,3354) {运算符};
\node[rc] (ovl) at (basic.south east |- 0,3379) {重载};
\node[rc] (arr) at (basic.south east |- 0,3404) {数组};
\foreach \c in {nwhat,port,udp,tcp} \draw[conn] (net.south east) -| (\c.south west);
\foreach \c in {sbuf,str,integ,math} \draw[conn] (api.south east) -| (\c.south west);
\foreach \c in {mm,gc,oper,ovl,arr} \draw[conn] (basic.south east) -| (\c.south west);
\end{scope}

%buttons
\foreach \n in {jv,sv,test,coop,j2ee,ldb,rule,wf,mq,ws,ui} \mns{([xshift=-7pt]\n.west)};
\foreach \n in {tpl,jdbc,jb} \mns{([xshift=7pt]\n.east)};
\foreach \n in {flt,sc,nosql,mongo,mintro,mconf,feat,sub2,hot,shard,ajax,css,jslib} \mns{([xshift=7pt]\n.west)};
\pls{([xshift=-7pt]svf.west)};
\foreach \n in {jsp,wrap,pool,db,conn,sqlop,dql,send,rs,oop,stat,feat2,refl,rgen,steps,rchk,inner,priv,
  coll,arrays,aslist,toarr,iter,io,iwhat,inp,conv,outp,os,wr,copy,thr,twhat,run,net,api,basic}
  \mns{([xshift=8pt]\n.east)};
\foreach \n in {jdbcc,factory,colq,dml,ddl,dcl,stmt,rsm,rsg,pst,close,sblock,ivar,init,rcons,rfield,rmeth,
  gft,gmt,rload,rproxy,gen,fin,enum,mem,cwhat,map,colle,litr,itr,in2,in3,cv1,cv2,os1,os2,w1,w2,w3,
  rdf,wtf,deco,file,thread,single,create,multi,tend,nwhat,port,udp,tcp,sbuf,str,integ,math,mm,gc,oper,ovl,arr}
  \pls{([xshift=8pt]\n.east)};

%branches from the root
\begin{pgfonlayer}{lines}
\mainline{ctea}{(981,1106)}{jv.east}
\mainline{cgre}{(979,1106)}{sv.east}
\mainline{coli}{(977,1106)}{xml.east}
\mainline{cred}{(975,1106)}{idl.east}
\mainline{cpur}{(973,1106)}{jndi.east}
\mainline{cblu}{(971,1106)}{jts.east}
\mainline{ctea}{(969,1106)}{jaf.east}
\mainline{cgre}{(967,1106)}{test.east}
\mainline{coli}{(964,1107)}{coop.east}
\mainline{cred}{(961,1108)}{j2ee.east}
\mainline{cred}{(985,1106)}{tpl.west}
\mainline{coli}{(988,1106)}{jdbc.west}
\mainline{cgre}{(991,1106)}{rmi.west}
\mainline{ctea}{(994,1106)}{jms.west}
\mainline{cblu}{(997,1106)}{jta.west}
\mainline{cpur}{(1001,1107)}{mail.west}
\mainline{cpur}{(925,1160)}{ldb.east}
\mainline{cblu}{(962,1174)}{uml.east}
\mainline{ctea}{(964,1174)}{habit.east}
\mainline{cgre}{(966,1174)}{goal.east}
\mainline{coli}{(968,1174)}{sec.east}
\mainline{cred}{(970,1174)}{flow.east}
\mainline{cpur}{(972,1174)}{rule.east}
\mainline{cblu}{(974,1174)}{wf.east}
\mainline{ctea}{(976,1174)}{mq.east}
\mainline{cgre}{(978,1174)}{ws.east}
\mainline{coli}{(980,1174)}{ui.east}
\mainline{cred}{(988,1174)}{jb.west}
\end{pgfonlayer}

\begin{pgfonlayer}{paper}
\fill[leather] (0,0) rectangle (2007,3420);
\end{pgfonlayer}
\pgfresetboundingbox
\path[use as bounding box] (0,0) rectangle (2007,3420);
\end{tikzpicture}
\end{document}
